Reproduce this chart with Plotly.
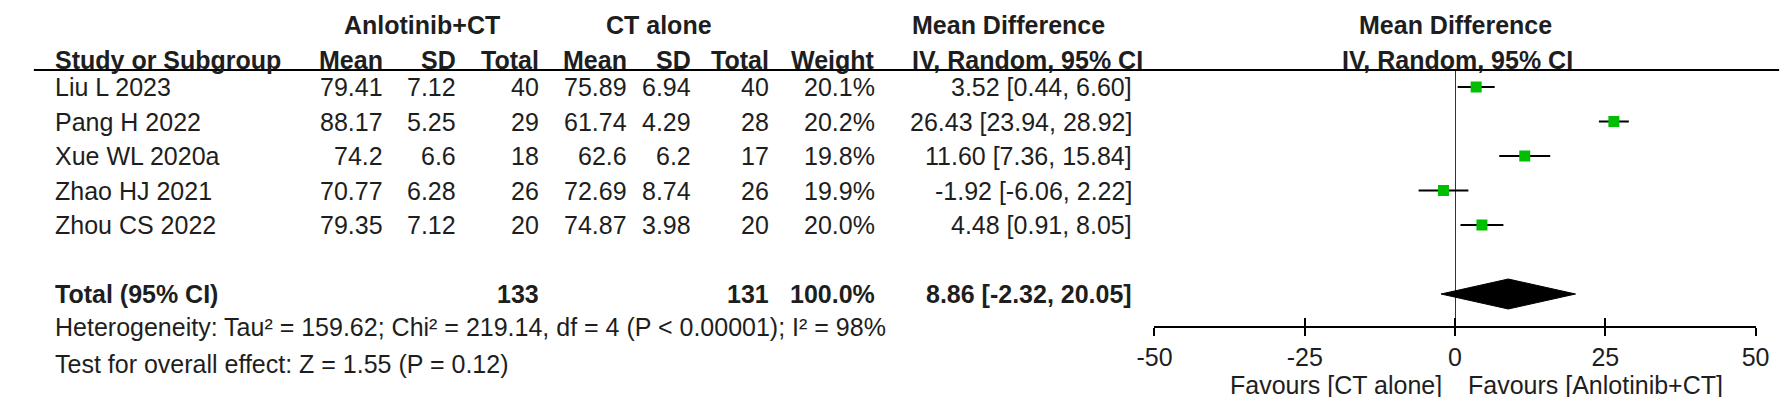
import plotly.graph_objects as go

# ---------------- data ----------------
studies = ["Liu L 2023", "Pang H 2022", "Xue WL 2020a", "Zhao HJ 2021", "Zhou CS 2022"]
anl_mean = [79.41, 88.17, 74.2, 70.77, 79.35]
anl_sd = [7.12, 5.25, 6.6, 6.28, 7.12]
anl_n = [40, 29, 18, 26, 20]
ct_mean = [75.89, 61.74, 62.6, 72.69, 74.87]
ct_sd = [6.94, 4.29, 6.2, 8.74, 3.98]
ct_n = [40, 28, 17, 26, 20]
weight = [20.1, 20.2, 19.8, 19.9, 20.0]
md = [3.52, 26.43, 11.60, -1.92, 4.48]
ci_lo = [0.44, 23.94, 7.36, -6.06, 0.91]
ci_hi = [6.60, 28.92, 15.84, 2.22, 8.05]

total_anl_n = 133
total_ct_n = 131
total_weight = 100.0
total_md = 8.86
total_lo = -2.32
total_hi = 20.05

heterogeneity = "Heterogeneity: Tau² = 159.62; Chi² = 219.14, df = 4 (P < 0.00001); I² = 98%"
overall = "Test for overall effect: Z = 1.55 (P = 0.12)"
tick_vals = [-50, -25, 0, 25, 50]
tick_text = ["-50", "-25", "0", "25", "50"]
favours_left = "Favours [CT alone]"
favours_right = "Favours [Anlotinib+CT]"

# ---------------- layout geometry (pixels) ----------------
W, H = 1792, 397
FONT = "Liberation Sans, Arial, sans-serif"
FS = 25
TXT = "#1e1e1e"

row0_px, row_step = 79, 34.5
axis_px, top_px = 318, 62
y_top = (top_px - row0_px) / row_step
y_bot = (axis_px - row0_px) / row_step
total_row = 6

def py(px):
    return 1 - px / H

def px_x(px):
    return px / W

fig = go.Figure()

rows = list(range(len(studies)))

# whiskers + squares
fig.add_trace(go.Scatter(
    x=md, y=rows, mode="markers",
    marker=dict(symbol="square", size=11, color="#00bf00", line=dict(width=0)),
    error_x=dict(type="data", symmetric=False,
                 array=[h - m for h, m in zip(ci_hi, md)],
                 arrayminus=[m - l for m, l in zip(md, ci_lo)],
                 color="black", thickness=2, width=0),
    hoverinfo="skip", showlegend=False))

# diamond
dh = 15 / row_step
fig.add_trace(go.Scatter(
    x=[total_lo, total_md, total_hi, total_md, total_lo],
    y=[total_row, total_row - dh, total_row, total_row + dh, total_row],
    mode="lines", fill="toself", fillcolor="black",
    line=dict(color="black", width=1), hoverinfo="skip", showlegend=False))

# invisible trace for overlay tick axis
fig.add_trace(go.Scatter(x=[0], y=[0], xaxis="x2", mode="markers",
                         marker=dict(opacity=0), hoverinfo="skip", showlegend=False))

dom = [px_x(1149), px_x(1761)]
fig.update_layout(
    width=W, height=H,
    margin=dict(l=0, r=0, t=0, b=0),
    paper_bgcolor="white", plot_bgcolor="white",
    font=dict(family=FONT, size=FS, color=TXT),
    xaxis=dict(domain=dom, range=[-50, 50], anchor="y",
               showgrid=False, zeroline=True, zerolinecolor="#333333", zerolinewidth=1,
               showline=True, linecolor="black", linewidth=2,
               ticks="outside", ticklen=8, tickwidth=2, tickcolor="black",
               tickvals=tick_vals, ticktext=tick_text,
               tickfont=dict(family=FONT, size=FS, color=TXT)),
    xaxis2=dict(domain=dom, range=[-50, 50], anchor="y", overlaying="x",
                showgrid=False, zeroline=False, showline=False,
                ticks="inside", ticklen=8, tickwidth=2, tickcolor="black",
                tickvals=tick_vals, showticklabels=False),
    yaxis=dict(domain=[py(axis_px), py(top_px)], range=[y_bot, y_top],
               visible=False, showgrid=False, zeroline=False),
)

ann = []

def add(text, x_px, y, yref="y", anchor="right", bold=False):
    t = f"<b>{text}</b>" if bold else text
    ann.append(dict(text=t, x=px_x(x_px), xref="paper", y=y, yref=yref,
                    xanchor=anchor, yanchor="middle", showarrow=False,
                    font=dict(family=FONT, size=FS, color=TXT)))

LEFT = 27
cols = dict(am=366, asd=440, an=524, cm=614, csd=679, cn=759, w=866, ci=1128)

# headers
h1, h2 = py(17), py(52)
add("Anlotinib+CT", 403, h1, "paper", "center", True)
add("CT alone", 645, h1, "paper", "center", True)
add("Mean Difference", 1000, h1, "paper", "center", True)
add("Mean Difference", 1455, h1, "paper", "center", True)
add("Study or Subgroup", LEFT, h2, "paper", "left", True)
add("Mean", cols["am"], h2, "paper", "right", True)
add("SD", cols["asd"], h2, "paper", "right", True)
add("Total", cols["an"], h2, "paper", "right", True)
add("Mean", cols["cm"], h2, "paper", "right", True)
add("SD", cols["csd"], h2, "paper", "right", True)
add("Total", cols["cn"], h2, "paper", "right", True)
add("Weight", cols["w"], h2, "paper", "right", True)
add("IV, Random, 95% CI", 1020, h2, "paper", "center", True)
add("IV, Random, 95% CI", 1458, h2, "paper", "center", True)

for i in rows:
    add(studies[i], LEFT, i, anchor="left")
    add(str(anl_mean[i]), cols["am"], i)
    add(str(anl_sd[i]), cols["asd"], i)
    add(str(anl_n[i]), cols["an"], i)
    add(str(ct_mean[i]), cols["cm"], i)
    add(str(ct_sd[i]), cols["csd"], i)
    add(str(ct_n[i]), cols["cn"], i)
    add(f"{weight[i]:.1f}%", cols["w"], i)
    add(f"{md[i]:.2f} [{ci_lo[i]:.2f}, {ci_hi[i]:.2f}]", cols["ci"], i)

add("Total (95% CI)", LEFT, total_row, anchor="left", bold=True)
add(str(total_anl_n), cols["an"], total_row, bold=True)
add(str(total_ct_n), cols["cn"], total_row, bold=True)
add(f"{total_weight:.1f}%", cols["w"], total_row, bold=True)
add(f"{total_md:.2f} [{total_lo:.2f}, {total_hi:.2f}]", cols["ci"], total_row, bold=True)

add(heterogeneity, LEFT, py(319), "paper", "left")
add(overall, LEFT, py(356), "paper", "left")

add(favours_left, 1444, py(377), "paper", "right")
add(favours_right, 1466, py(377), "paper", "left")

fig.update_layout(annotations=ann)

# header rule
fig.add_shape(type="line", xref="paper", yref="paper",
              x0=px_x(8), x1=px_x(1785), y0=py(top_px), y1=py(top_px),
              line=dict(color="black", width=2))

fig.write_html("out.html")
